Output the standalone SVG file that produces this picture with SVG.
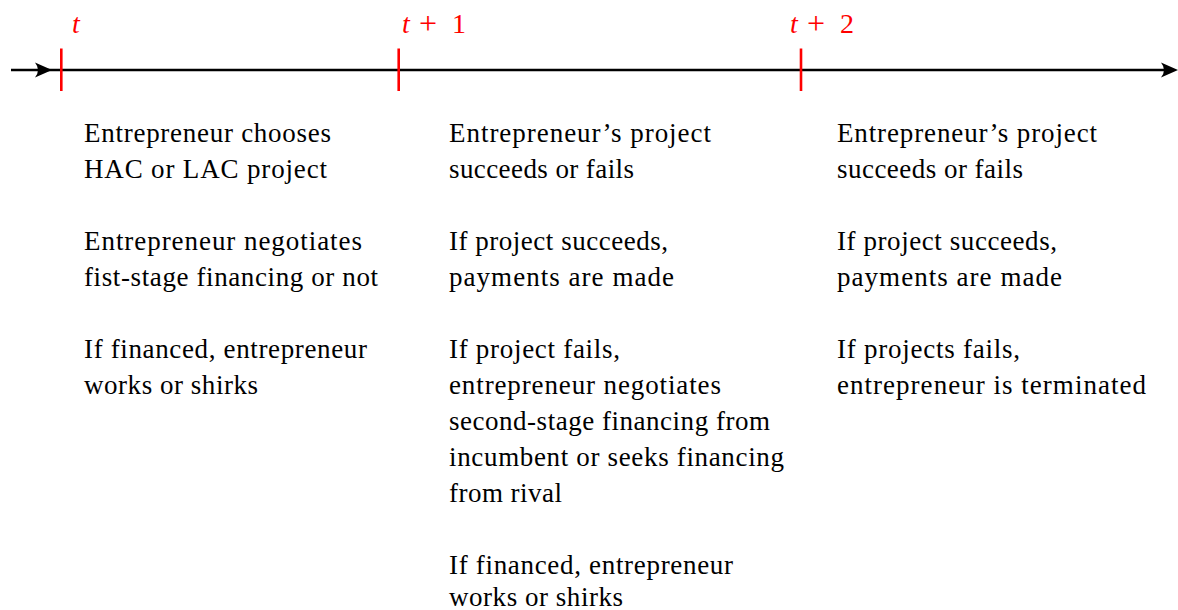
<svg xmlns="http://www.w3.org/2000/svg" width="1178" height="610" viewBox="0 0 1178 610">
<style>
.txt { font-family: "Liberation Serif", "Times New Roman", serif; font-size: 27px; fill: #000; }
.lbl { font-family: "Liberation Serif", "Times New Roman", serif; font-size: 28px; fill: #ff0000; }
.it { font-style: italic; }
.plus { font-size: 32px; }
.tick { stroke: #ff0000; stroke-width: 2.6; }
.axis { stroke: #000; stroke-width: 2.4; fill: none; }
.head { fill: #000; }
</style>
<rect width="1178" height="610" fill="#fff"/>
<g id="connectors">
  <line class="axis" x1="11" y1="70" x2="1172" y2="70"/>
  <path class="head" d="M52,70 L35,62.5 Q41,70 35,77.5 Z"/>
  <path class="head" d="M1178,70 L1161,62.5 Q1167,70 1161,77.5 Z"/>
</g>
<g id="node-t">
  <line class="tick" x1="61.3" y1="48.5" x2="61.3" y2="91"/>
  <text class="lbl it" x="72" y="33">t</text>
  <text class="txt" x="84" y="141.5" textLength="247" lengthAdjust="spacing">Entrepreneur chooses</text>
  <text class="txt" x="84" y="177.5" textLength="243" lengthAdjust="spacing">HAC or LAC project</text>
  <text class="txt" x="84" y="249.5" textLength="278" lengthAdjust="spacing">Entrepreneur negotiates</text>
  <text class="txt" x="84" y="285.5" textLength="294" lengthAdjust="spacing">fist-stage financing or not</text>
  <text class="txt" x="84" y="357.5" textLength="283" lengthAdjust="spacing">If financed, entrepreneur</text>
  <text class="txt" x="84" y="393.5" textLength="174" lengthAdjust="spacing">works or shirks</text>
</g>
<g id="node-t1">
  <line class="tick" x1="398.7" y1="48.5" x2="398.7" y2="91"/>
  <text class="lbl"><tspan class="it" x="402" y="33">t</tspan><tspan class="plus" x="419" y="34">+</tspan><tspan x="452" y="33">1</tspan></text>
  <text class="txt" x="449" y="141.5" textLength="262" lengthAdjust="spacing">Entrepreneur’s project</text>
  <text class="txt" x="449" y="177.5" textLength="185" lengthAdjust="spacing">succeeds or fails</text>
  <text class="txt" x="449" y="249.5" textLength="219" lengthAdjust="spacing">If project succeeds,</text>
  <text class="txt" x="449" y="285.5" textLength="225" lengthAdjust="spacing">payments are made</text>
  <text class="txt" x="449" y="357.5" textLength="171" lengthAdjust="spacing">If project fails,</text>
  <text class="txt" x="449" y="393.5" textLength="272" lengthAdjust="spacing">entrepreneur negotiates</text>
  <text class="txt" x="449" y="429.5" textLength="321" lengthAdjust="spacing">second-stage financing from</text>
  <text class="txt" x="449" y="465.5" textLength="335" lengthAdjust="spacing">incumbent or seeks financing</text>
  <text class="txt" x="449" y="501.5" textLength="113" lengthAdjust="spacing">from rival</text>
  <text class="txt" x="449" y="573.5" textLength="284" lengthAdjust="spacing">If financed, entrepreneur</text>
  <text class="txt" x="449" y="606" textLength="174" lengthAdjust="spacing">works or shirks</text>
</g>
<g id="node-t2">
  <line class="tick" x1="801" y1="48.5" x2="801" y2="91"/>
  <text class="lbl"><tspan class="it" x="790" y="33">t</tspan><tspan class="plus" x="807" y="34">+</tspan><tspan x="840" y="33">2</tspan></text>
  <text class="txt" x="837" y="141.5" textLength="260" lengthAdjust="spacing">Entrepreneur’s project</text>
  <text class="txt" x="837" y="177.5" textLength="186" lengthAdjust="spacing">succeeds or fails</text>
  <text class="txt" x="837" y="249.5" textLength="220" lengthAdjust="spacing">If project succeeds,</text>
  <text class="txt" x="837" y="285.5" textLength="225" lengthAdjust="spacing">payments are made</text>
  <text class="txt" x="837" y="357.5" textLength="183" lengthAdjust="spacing">If projects fails,</text>
  <text class="txt" x="837" y="393.5" textLength="309" lengthAdjust="spacing">entrepreneur is terminated</text>
</g>
</svg>
